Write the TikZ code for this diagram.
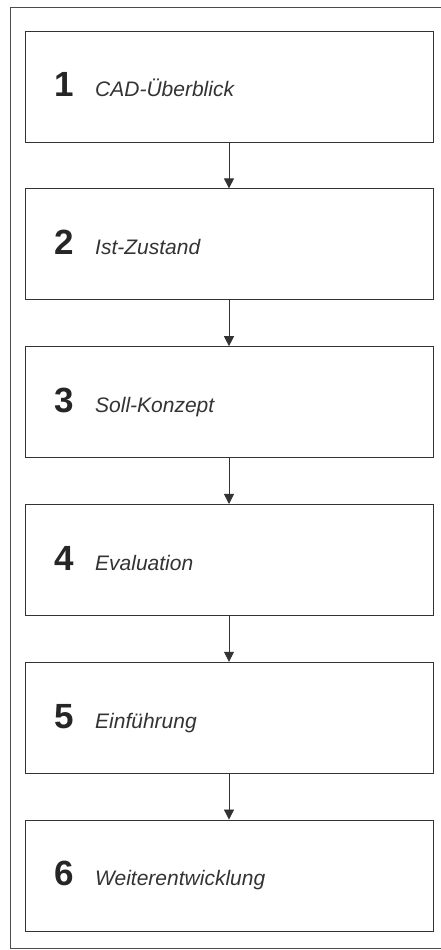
\documentclass[tikz,border=0pt]{standalone}
\usepackage{fontspec}
\setmainfont{Liberation Sans}
\usetikzlibrary{arrows.meta, positioning}

\tikzset{
	stage/.style={draw=black!80, line width=0.8pt, minimum width=408pt, minimum height=111pt, inner sep=0pt},
	stagenum/.style={anchor=base west, inner sep=0pt, font=\fontsize{35}{35}\selectfont\bfseries, text=black!85},
	stagetxt/.style={anchor=base west, inner sep=0pt, font=\fontsize{21}{21}\selectfont\itshape, text=black!80},
	flow/.style={draw=black!80, line width=0.8pt, -{Triangle[length=10pt,width=10pt]}}
}

\begin{document}
\begin{tikzpicture}[x=1pt,y=1pt]
		\useasboundingbox (0,0) rectangle (440,950);
		\draw [black!70, line width=0.9pt] (445,943) -- (10,943) -- (10,2) -- (445,2);
		\node [stage] at (229,863.5) (b1) {};
		\node [stage] at (229,705.7) (b2) {};
		\node [stage] at (229,547.9) (b3) {};
		\node [stage] at (229,390.1) (b4) {};
		\node [stage] at (229,232.3) (b5) {};
		\node [stage] at (229,74.5) (b6) {};
		\node [stagenum] at (54,853.0) (n1) {1};
		\node [stagetxt] at (95,853.0) (t1) {CAD-Überblick};
		\node [stagenum] at (54,695.2) (n2) {2};
		\node [stagetxt] at (95,695.2) (t2) {Ist-Zustand};
		\node [stagenum] at (54,537.4) (n3) {3};
		\node [stagetxt] at (95,537.4) (t3) {Soll-Konzept};
		\node [stagenum] at (54,379.6) (n4) {4};
		\node [stagetxt] at (95,379.6) (t4) {Evaluation};
		\node [stagenum] at (54,221.8) (n5) {5};
		\node [stagetxt] at (95,221.8) (t5) {Einführung};
		\node [stagenum] at (54,64.0) (n6) {6};
		\node [stagetxt] at (95,64.0) (t6) {Weiterentwicklung};
		\draw [flow] (b1) -- (b2);
		\draw [flow] (b2) -- (b3);
		\draw [flow] (b3) -- (b4);
		\draw [flow] (b4) -- (b5);
		\draw [flow] (b5) -- (b6);
	\end{tikzpicture}
\end{document}
